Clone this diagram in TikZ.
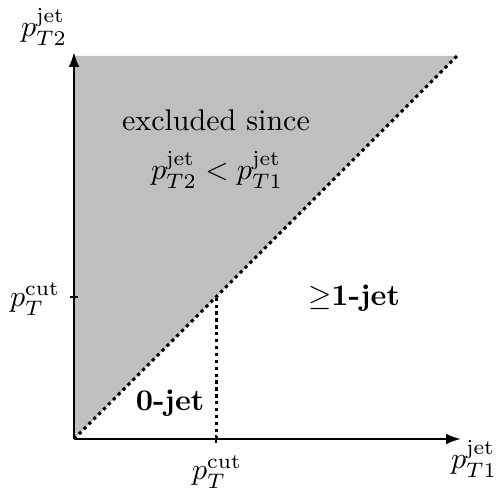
\documentclass[tikz,border=0pt]{standalone}
\usetikzlibrary{arrows.meta}
\begin{document}
\begin{tikzpicture}[x=0.3333pt,y=-0.3333pt,
  axis/.style={line width=0.75pt,-{Latex[length=5pt,width=3.6pt]}},
  dotline/.style={line width=1pt,dash pattern=on 1.1pt off 1.2pt},
  lbl/.style={inner sep=0pt}]
\useasboundingbox (0,0) rectangle (497,488);
\coordinate (O) at (74,439);
\coordinate (TL) at (74,56);
\coordinate (TR) at (457,56);
\coordinate (XT) at (216,439);
\coordinate (YT) at (74,297);
\coordinate (D) at (216,297);
\fill[black!25] (O) -- (TL) -- (TR) -- cycle;
\draw[dotline] (O) -- (TR);
\draw[dotline] (XT) -- (D);
\draw[axis] (O) -- (461,439) coordinate (XE);
\draw[axis] (O) -- (74,52) coordinate (YE);
\draw[line width=0.75pt] ([yshift=-1.3pt]XT) -- ([yshift=1.3pt]XT);
\draw[line width=0.75pt] ([xshift=-1.3pt]YT) -- ([xshift=1.3pt]YT);
\node[lbl] (ly) at (44,27) {$p_{T2}^{\mathrm{jet}}$};
\node[lbl] (lx) at (474,459) {$p_{T1}^{\mathrm{jet}}$};
\node[lbl] (lyc) at (35,299) {$p_{T}^{\mathrm{cut}}$};
\node[lbl] (lxc) at (217,472) {$p_{T}^{\mathrm{cut}}$};
\node[lbl] (ex1) at (216,120) {excluded since};
\node[lbl] (ex2) at (217,170) {$p_{T2}^{\mathrm{jet}} < p_{T1}^{\mathrm{jet}}$};
\node[lbl] (one) at (354,298) {$\geq$\textbf{1-jet}};
\node[lbl] (zero) at (170,403) {\textbf{0-jet}};
\end{tikzpicture}
\end{document}
